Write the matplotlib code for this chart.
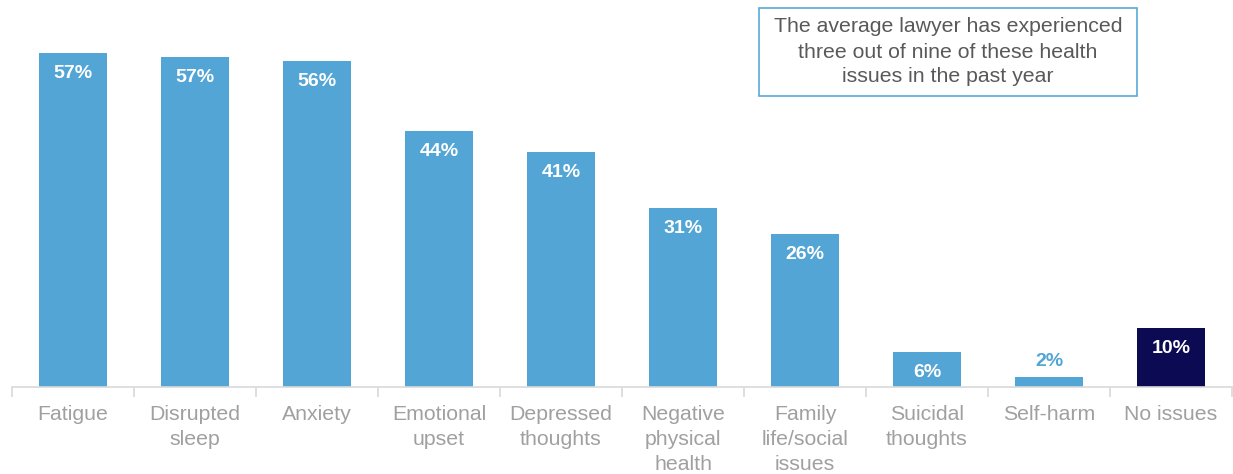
import numpy as np
import matplotlib
matplotlib.use('Agg')
import matplotlib.pyplot as plt
from matplotlib.patches import Rectangle

plt.rcParams['font.family'] = ['Liberation Sans', 'DejaVu Sans']

# Data
categories = ['Fatigue', 'Disrupted\nsleep', 'Anxiety', 'Emotional\nupset', 'Depressed\nthoughts',
              'Negative\nphysical\nhealth', 'Family\nlife/social\nissues', 'Suicidal\nthoughts',
              'Self-harm', 'No issues']
values = [57.3, 56.6, 55.9, 43.9, 40.3, 30.7, 26.2, 6.0, 1.7, 10.1]
labels = ['57%', '57%', '56%', '44%', '41%', '31%', '26%', '6%', '2%', '10%']

blue = '#52a5d5'
navy = '#0c0a52'
colors = [blue] * 9 + [navy]

fig = plt.figure(figsize=(12.33, 4.74), dpi=100)
ax = fig.add_axes([12 / 1233, 87 / 474, 1220 / 1233, 387 / 474])

x = np.arange(len(categories))
ax.bar(x, values, width=0.56, color=colors, zorder=2)

for xi, v, lab in zip(x, values, labels):
    if v > 4:
        ax.text(xi, v - 2.0, lab, ha='center', va='top', color='white',
                fontsize=14, fontweight='bold')
    else:
        ax.text(xi, v + 1.3, lab, ha='center', va='bottom', color=blue,
                fontsize=14, fontweight='bold')

ax.set_xlim(-0.5, len(categories) - 0.5)
ax.set_ylim(0, 66.4)
ax.set_yticks([])
for s in ['top', 'right', 'left']:
    ax.spines[s].set_visible(False)
ax.spines['bottom'].set_color('#d9d9d9')
ax.spines['bottom'].set_linewidth(1.2)

# category labels centred, tick marks between categories
ax.set_xticks(x)
ax.set_xticklabels(categories, fontsize=15.3, color='#a0a0a0', linespacing=1.4)
ax.tick_params(axis='x', length=0, pad=13)
ax.set_xticks(np.arange(-0.5, len(categories)), minor=True)
ax.tick_params(axis='x', which='minor', length=7, color='#d9d9d9', width=1.2)

# annotation box
fig.patches.append(Rectangle((759 / 1233, 1 - 96 / 474), 378 / 1233, 88 / 474,
                             transform=fig.transFigure, fill=False,
                             edgecolor='#5aa9d6', linewidth=1.2))
fig.text(948 / 1233, 1 - 52 / 474,
         'The average lawyer has experienced\nthree out of nine of these health\nissues in the past year',
         ha='center', va='center', fontsize=15.3, color='#595959', linespacing=1.4)

fig.savefig('out.png', dpi=100)
